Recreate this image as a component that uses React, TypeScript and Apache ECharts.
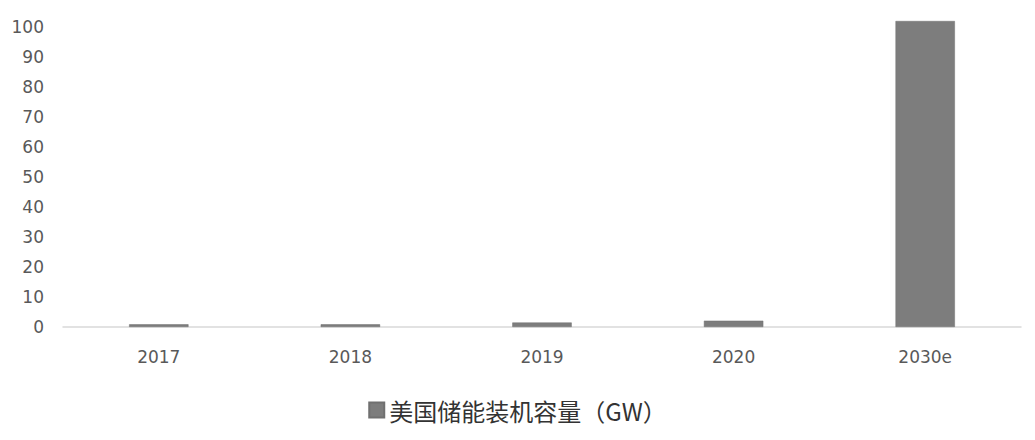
import { useEffect, useRef } from 'react'
import * as echarts from 'echarts'

const categories = ['2017', '2018', '2019', '2020', '2030e']
const capacity = [0.9, 0.9, 1.5, 2.1, 102]
const seriesName = '美国储能装机容量（GW）'

export default function App(): JSX.Element {
  const chartRef = useRef<HTMLDivElement>(null)

  useEffect(() => {
    if (!chartRef.current) return
    const chart = echarts.init(chartRef.current, undefined, { renderer: 'svg' })

    const option: echarts.EChartsOption = {
      animation: false,
      backgroundColor: '#ffffff',
      grid: {
        left: 63,
        right: 14,
        top: 27,
        bottom: 113
      },
      legend: {
        data: [seriesName],
        bottom: 13,
        left: 'center',
        icon: 'rect',
        itemWidth: 15,
        itemHeight: 15,
        itemGap: 7,
        textStyle: {
          color: '#333333',
          fontSize: 24,
          fontFamily: '"Noto Sans CJK SC", sans-serif'
        }
      },
      xAxis: {
        type: 'category',
        data: categories,
        axisLine: { lineStyle: { color: '#d9d9d9', width: 1.5 } },
        axisTick: { show: false },
        axisLabel: {
          color: '#595959',
          fontSize: 17,
          fontFamily: '"DejaVu Sans", sans-serif',
          margin: 21
        }
      },
      yAxis: {
        type: 'value',
        min: 0,
        max: 100,
        interval: 10,
        axisLine: { show: false },
        axisTick: { show: false },
        splitLine: { show: false },
        axisLabel: {
          color: '#595959',
          fontSize: 17,
          fontFamily: '"DejaVu Sans", sans-serif',
          margin: 19
        }
      },
      series: [
        {
          name: seriesName,
          type: 'bar',
          data: capacity,
          barWidth: '31%',
          clip: false,
          itemStyle: {
            color: '#7d7d7d',
            borderColor: '#707070',
            borderWidth: 0.5
          }
        }
      ]
    }

    chart.setOption(option)
    return () => {
      chart.dispose()
    }
  }, [])

  return (
    <div
      ref={chartRef}
      style={{ position: 'absolute', left: 0, top: 0, width: 1035, height: 440 }}
    />
  )
}
